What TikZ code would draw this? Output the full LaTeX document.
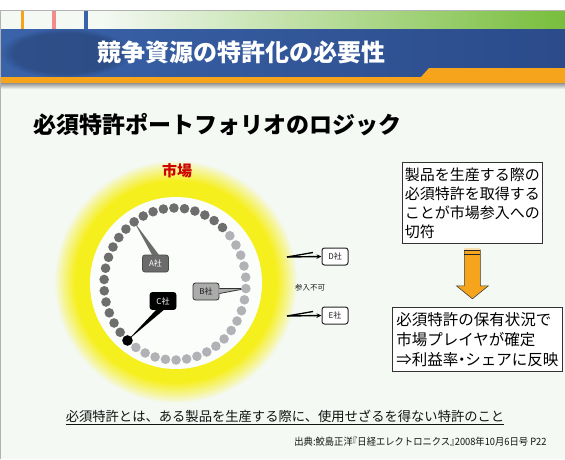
\documentclass[tikz,border=0pt]{standalone}
\usepackage{fontspec}
\setmainfont{Noto Sans CJK JP}
\usetikzlibrary{arrows.meta,fadings}
\definecolor{bg}{HTML}{F4F9F4}
\definecolor{yel}{HTML}{F6EF1E}
\definecolor{bnL}{HTML}{3A63A9}
\definecolor{bnR}{HTML}{2B4B8A}
\definecolor{org}{HTML}{F5A41C}
\definecolor{grn}{HTML}{78BE3C}
\definecolor{pnk}{HTML}{F28C8C}
\definecolor{mblue}{HTML}{3B62A8}
\definecolor{mred}{HTML}{CC0000}
\definecolor{agray}{HTML}{6B6B6B}
\definecolor{dkdot}{HTML}{6E6E6E}
\definecolor{ltdot}{HTML}{B2B2B6}
\definecolor{bgray}{HTML}{ABABAB}
\tikzset{
  lab/.style={rounded corners=2.5pt, minimum width=26pt, minimum height=17pt, inner sep=0pt, line width=0.8pt, font=\fontsize{8}{8}\selectfont},
  rbox/.style={draw=gray!40!black, fill=white, line width=0.8pt, align=left, inner sep=2pt},
  dotd/.style={fill=dkdot},
  dotl/.style={fill=ltdot},
  entry/.style={line width=1.4pt, -{Stealth[length=5pt,width=4.5pt]}}
}
\begin{document}
\begin{tikzpicture}[x=1pt,y=-1pt]
\useasboundingbox (0,0) rectangle (565,459);
% background
\fill[white] (0,0) rectangle (565,10);
\fill[bg] (0,10) rectangle (565,459);
% top bar
\shade[left color=bg, right color=grn] (100,10) rectangle (565,29);
\fill[org] (21,10) rectangle (24,29);
\fill[pnk] (52,10) rectangle (56,29);
\fill[mblue] (84,10) rectangle (88,29);
\draw[gray!60] (0,10.5) -- (565,10.5);
% banner
\shade[left color=bnL, right color=bnR] (0,29) rectangle (565,78);
\fill[bnR!50!black, opacity=0.3, path fading=circle with fuzzy edge 20 percent] (65,53) ellipse (65pt and 25pt);
\fill[org] (0,77) rectangle (565,83);
\fill[org] (421,77) -- (429,68) -- (565,68) -- (565,77) -- cycle;
\shade[top color=gray!85, bottom color=bg] (0,83) rectangle (565,89);
\draw[gray!60] (0.5,10) -- (0.5,459);
\node[font=\bfseries\fontsize{24}{24}\selectfont, text=white] (title) at (241,52) {競争資源の特許化の必要性};
% heading
\node[font=\bfseries\fontsize{23}{23}\selectfont, anchor=west, inner sep=0pt] (head) at (33,125) {必須特許ポートフォリオのロジック};
% market glow
\foreach \i in {0,...,35}{
  \pgfmathsetmacro\rr{122-\i}
  \pgfmathsetmacro\pp{min(100,100*(\i/21)^0.9)}
  \fill[yel!\pp!bg] (176,282) circle (\rr pt);
}
\fill[bg!40!white] (176,283) circle (86pt);
\node[text=mred, font=\bfseries\fontsize{15}{15}\selectfont] (mkt) at (177,171) {市場};
% dot coordinates
\foreach \j in {1,...,21}{\coordinate (dk\j) at ({175+71*cos(228-8.571*\j)},{284-76*sin(228-8.571*\j)});}
\foreach \j in {1,...,20}{\coordinate (lt\j) at ({175+71*cos(228+8.571*\j)},{284-76*sin(228+8.571*\j)});}
\coordinate (blk) at ({175+71*cos(228)},{284-76*sin(228)});
% company labels
\node[lab, fill=agray, draw=agray!70!black, text=white] (A) at (155.5,263.5) {A社};
\node[lab, fill=bgray, draw=gray!40!black, text=gray!20!black] (B) at (206,291.5) {B社};
\node[lab, fill=black, draw=black, text=white] (C) at (163,301) {C社};
% pointers
\fill[agray] ([xshift=-3pt,yshift=-1pt]A.north) -- ([xshift=4pt,yshift=-1pt]A.north) -- (dk12) -- cycle;
\fill[black] ([xshift=-6pt,yshift=1pt]C.south) -- ([xshift=2pt,yshift=1pt]C.south) -- (blk) -- cycle;
\fill[bgray] ([xshift=-1pt,yshift=3pt]B.east) -- ([xshift=-1pt,yshift=-2pt]B.east) -- (lt15) -- cycle;
\draw[gray!40!black, line width=0.8pt] ([yshift=3pt]B.east) -- (lt15) -- ([yshift=-2pt]B.east);
% dots
\foreach \j in {1,...,21}{\fill[dotd] (dk\j) circle (4.8pt);}
\foreach \j in {1,...,20}{\fill[dotl] (lt\j) circle (4.8pt);}
\fill[black] (blk) circle (5.3pt);
% outsiders
\node[lab, fill=white, draw=gray!30!black, line width=1pt, text=gray!25!black] (D) at (335,256.5) {D社};
\node[lab, fill=white, draw=gray!30!black, line width=1pt, text=gray!25!black] (E) at (335,315.5) {E社};
\coordinate (ds) at (287,257);
\coordinate (es) at (287,316);
\draw[line width=1.3pt] (ds) -- (313,252.5);
\draw[line width=1.3pt] (es) -- (313,311.5);
\draw[entry] (ds) -- (D.west);
\draw[entry] (es) -- (E.west);
\node[font=\fontsize{7.5}{8}\selectfont, text=gray!20!black] (ng) at (310,288) {参入不可};
% right boxes
\node[rbox, anchor=north west, minimum width=140pt, minimum height=81pt, font=\fontsize{15}{19}\selectfont] (R1) at (402,162) {製品を生産する際の\\必須特許を取得する\\ことが市場参入への\\切符};
\node[rbox, anchor=north west, minimum width=170pt, minimum height=64pt, font=\fontsize{15.5}{20}\selectfont] (R2) at (392,307) {必須特許の保有状況で\\市場プレイヤが確定\\⇒利益率\makebox[7pt]{・}シェアに反映};
% block arrow
\draw[gray!50!black, line width=0.6pt, fill=org] ([xshift=-8pt,yshift=-6pt]R1.south) coordinate (a0) -- ++(16,0) -- ++(0,36) -- ++(8,0) -- ++(-16,13) -- ++(-16,-13) -- ++(8,0) -- cycle;
\fill[org!35!white] ([yshift=-1pt]a0) rectangle ++(16,-3);
\draw[gray!30!black, line width=1pt] ([yshift=-1pt]a0) -- ++(16,0);
\draw[gray!30!black, line width=1pt] ([yshift=-4.5pt]a0) -- ++(16,0);
% bottom texts
\node[font=\fontsize{13.3}{14}\selectfont, text=gray!15!black] (def) at (285,417) {\underline{必須特許とは、ある製品を生産する際に、使用せざるを得ない特許のこと}};
\node[font=\fontsize{10}{10}\selectfont, anchor=east, text=gray!15!black] (src) at (550,442) {\scalebox{0.93}[1]{出典:鮫島正洋\makebox[5pt][r]{『}日経エレクトロニクス\makebox[5pt][l]{』}2008年10月6日号 P22}};
\end{tikzpicture}
\end{document}
